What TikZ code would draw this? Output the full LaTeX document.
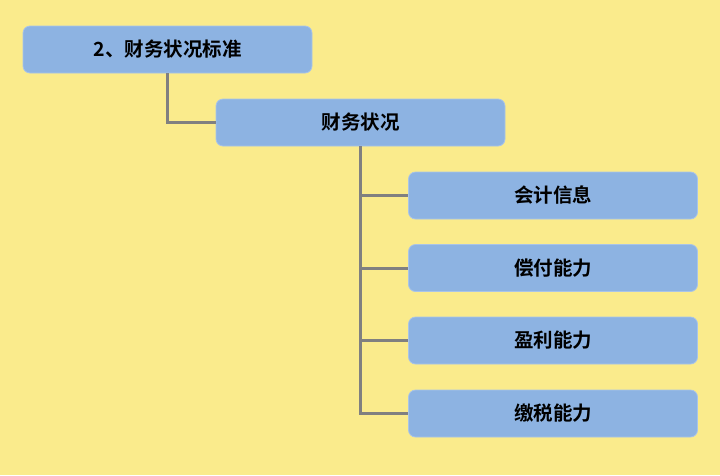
\documentclass[tikz,border=0pt]{standalone}
\usepackage{fontspec}
\newfontfamily\cjk{Noto Sans CJK SC}[BoldFont={Noto Sans CJK SC Bold}]
\definecolor{bgc}{HTML}{FAEB8C}
\definecolor{boxc}{HTML}{8DB3E2}
\definecolor{boxline}{HTML}{A9C4E8}
\definecolor{linec}{HTML}{808080}
\tikzset{
  box/.style={draw=boxline, line width=0.8pt, fill=boxc, rounded corners=7pt, minimum width=289pt, minimum height=47pt, inner sep=0pt, font=\cjk\bfseries\fontsize{19.5}{22}\selectfont, text=black},
  conn/.style={draw=linec, line width=3pt}
}
\begin{document}
\begin{tikzpicture}[x=1pt,y=-1pt]
\fill[bgc] (0,0) rectangle (720,475);
\useasboundingbox (0,0) rectangle (720,475);
\node[box] (a) at (167.5,49.5) {2、财务状况标准};
\node[box] (b) at (360.5,122.5) {财务状况};
\node[box] (c) at (553,195.5) {会计信息};
\node[box] (d) at (553,268) {偿付能力};
\node[box] (e) at (553,340.5) {盈利能力};
\node[box] (f) at (553,413.5) {缴税能力};
\coordinate (ab) at (a.south |- b.west);
\coordinate (bf) at (b.south |- f.west);
\draw[conn] (a.south) -- (ab) -- (b.west);
\draw[conn] (b.south) -- (bf) -- (f.west);
\draw[conn] (b.south |- c.west) -- (c.west);
\draw[conn] (b.south |- d.west) -- (d.west);
\draw[conn] (b.south |- e.west) -- (e.west);
\end{tikzpicture}
\end{document}
